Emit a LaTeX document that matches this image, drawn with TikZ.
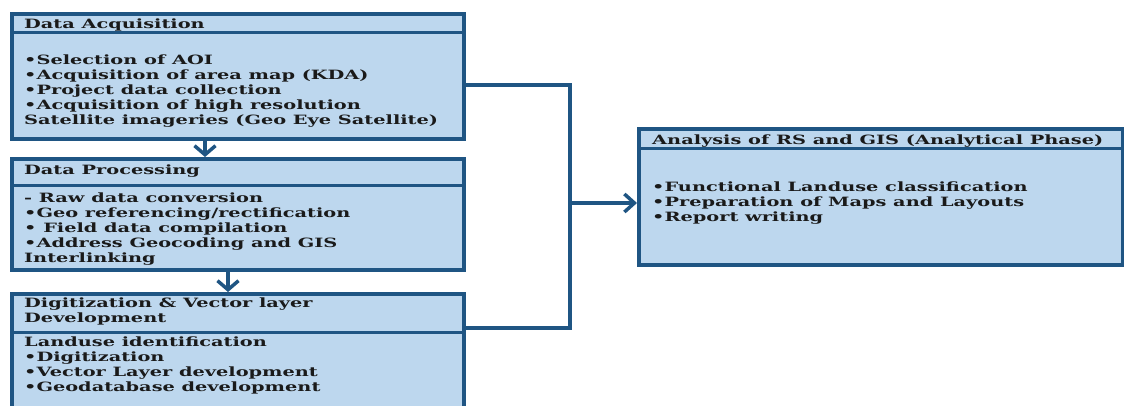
\documentclass[tikz,border=0pt]{standalone}
\usepackage{fontspec}
\setmainfont{DejaVu Serif}[FakeStretch=1.51]
\usetikzlibrary{arrows.meta}
\definecolor{boxfill}{HTML}{BDD7EE}
\definecolor{boxline}{HTML}{1F5583}
\definecolor{txtcol}{HTML}{1A1A1A}
\begin{document}
\begin{tikzpicture}[x=1pt,y=-1pt,
  box/.style={draw=boxline, fill=boxfill, line width=4pt, anchor=north west, inner sep=0pt},
  divider/.style={draw=boxline, line width=3pt},
  conn/.style={draw=boxline, line width=3.5pt},
  arr/.style={conn, -{Straight Barb[length=9pt,width=21pt,line width=3.5pt]}},
  harr/.style={conn, -{Straight Barb[length=10pt,width=18pt,line width=3.5pt]}},
  txt/.style={anchor=north west, inner sep=0pt, align=left, text=txtcol,
    font=\fontsize{12.8}{14.8}\selectfont\bfseries}
]
\useasboundingbox (0,0) rectangle (1124,405);
% boxes
\node[box, minimum width=452pt, minimum height=125pt] (b1) at (10,12) {};
\node[box, minimum width=452pt, minimum height=111pt] (b2) at (10,157) {};
\node[box, minimum width=452pt, minimum height=118pt] (b3) at (10,292) {};
\node[box, minimum width=484pt, minimum height=136pt] (b4) at (637,127) {};
% dividers
\draw[divider] (b1.west |- 0,32) -- (b1.east |- 0,32);
\draw[divider] (b2.west |- 0,185) -- (b2.east |- 0,185);
\draw[divider] (b3.west |- 0,332) -- (b3.east |- 0,332);
\draw[divider] (b4.west |- 0,148) -- (b4.east |- 0,148);
% texts
\node[txt] (t1h) at (24,19) {Data Acquisition};
\node[txt] (t1) at (24,55) {•Selection of AOI\\•Acquisition of area map (KDA)\\•Project data collection\\•Acquisition of  high resolution\\Satellite imageries (Geo Eye Satellite)};
\node[txt] (t2h) at (24,165) {Data Processing};
\node[txt] (t2) at (24,193) {- Raw data conversion\\•Geo referencing/rectification\\• Field data compilation\\•Address Geocoding and  GIS\\Interlinking};
\node[txt] (t3h) at (24,298) {Digitization \& Vector layer\\Development};
\node[txt] (t3) at (24,337) {Landuse  identification\\•Digitization\\•Vector Layer development\\•Geodatabase development};
\node[txt] (t4h) at (652,135) {Analysis of RS and GIS (Analytical Phase)};
\node[txt] (t4) at (652,182) {•Functional Landuse classification\\•Preparation of Maps and Layouts\\•Report writing};
% connectors
\coordinate (j1) at (570,85);
\coordinate (j2) at (570,328);
\coordinate (jm) at (570,203);
\draw[conn] (b1.east |- j1) -- (j1) -- (j2) -- (b3.east |- j2);
\draw[harr] (jm) -- (b4.west |- jm);
\draw[arr] (b1.south -| 205,0) -- (b2.north -| 205,0);
\draw[arr] (b2.south -| 228,0) -- (b3.north -| 228,0);
\end{tikzpicture}
\end{document}
